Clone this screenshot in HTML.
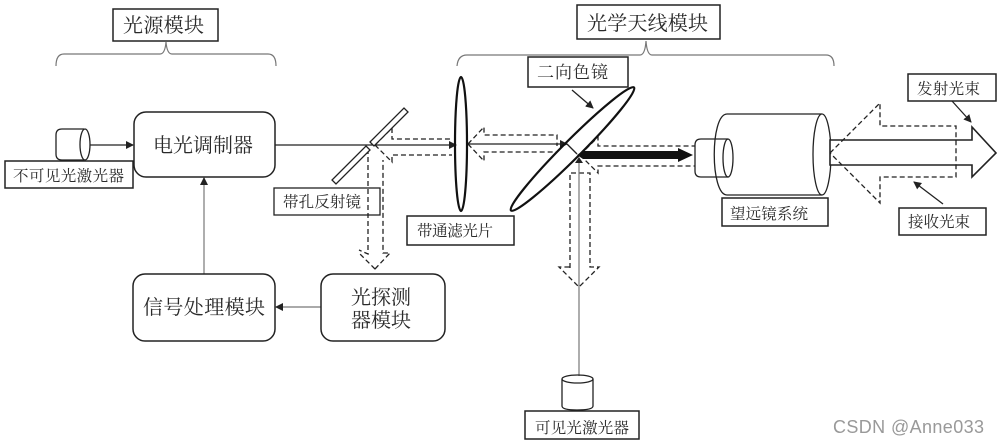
<!DOCTYPE html>
<html><head><meta charset="utf-8"><style>
html,body{margin:0;padding:0;background:#fff}
svg{display:block}
text{font-family:"Noto Serif CJK SC","Liberation Serif",serif;fill:#2a2a2a}
.b{fill:#fff;stroke:#222;stroke-width:1.5}
.l{fill:none;stroke:#222;stroke-width:1.3}
.d{fill:none;stroke:#222;stroke-width:1.3;stroke-dasharray:5 3}
.g{fill:none;stroke:#777;stroke-width:1.2}
</style></head><body>
<svg width="1000" height="443" viewBox="0 0 1000 443" xmlns="http://www.w3.org/2000/svg">
<defs><marker id="a" markerWidth="8" markerHeight="8" refX="7" refY="4" orient="auto" markerUnits="userSpaceOnUse"><path d="M0 0L8 4L0 8Z" fill="#222"/></marker></defs>
<rect width="1000" height="443" fill="#fff"/>

<!-- braces -->
<path class="g" d="M56 66Q56 54 64 54H160Q165 54 166 42Q167 54 172 54H268Q276 54 276 66"/>
<path class="g" d="M457 66Q458 55 467 55H640Q645 55 646 41Q647 55 652 55H826Q834 55 834 66"/>

<!-- dashed beams (left) -->
<path class="d" d="M368 149V254L359 250M375 269L360 254M375 269L390 253L383 253V160"/>
<path class="d" d="M375 145L392 128V139H452M375 145L392 162V155H452"/>
<path class="d" d="M468 144L484 127V135H557V146M468 144L484 161V152H557"/>
<path class="d" d="M580 155L598 137V146H695M580 155L598 173V166H695"/>
<path class="d" d="M570 268V173H590V267H599L579 287L559 267H570"/>

<!-- solid beams -->
<path class="l" d="M275 145H456" marker-end="url(#a)"/>
<path class="l" d="M468 144H567" marker-end="url(#a)"/>
<path class="l" d="M90 145H133" marker-end="url(#a)"/>
<path class="l" d="M567 144L577 154"/>
<path class="g" d="M579 160V376"/>
<path d="M579 157L583 163H575Z" fill="#222"/>

<!-- mirror -->
<path fill="#fff" stroke="#222" stroke-width="1.3" d="M370 142L404 108L408 112L374 146Z"/>
<path fill="#fff" stroke="#222" stroke-width="1.3" d="M366 146L370 150L336 184L332 180Z"/>

<!-- lens -->
<ellipse cx="461" cy="144" rx="6" ry="67" fill="none" stroke="#111" stroke-width="2.2"/>
<!-- dichroic -->
<ellipse cx="572.5" cy="149" rx="87" ry="9" transform="rotate(-45 572.5 149)" fill="none" stroke="#111" stroke-width="2.2"/>

<!-- thick arrow -->
<path d="M577 155L583 151H678V148L693 155L678 162V159H583Z" fill="#111"/>

<!-- small laser left -->
<path class="l" d="M84 129H62Q56 129 56 135V154Q56 160 62 160H84"/>
<ellipse class="l" cx="85" cy="144.500" rx="5" ry="15.500"/>

<!-- telescope -->
<path class="l" d="M822 114H727C710 114 710 195 727 195H822"/>
<ellipse class="l" cx="822" cy="154.500" rx="9" ry="40.500" style="fill:#fff"/>
<path class="l" d="M728 139H701Q695 139 695 145V171Q695 177 701 177H728"/>
<ellipse class="l" cx="728" cy="158" rx="5" ry="19"/>

<!-- big output arrows -->
<path d="M830 140H972V127L996 153L972 177V165H830Z" fill="#fff" stroke="#222" stroke-width="1.6"/>
<path class="d" d="M830 153L880 103V126H956V177H880V203L830 153"/>

<!-- bottom laser -->
<path class="l" d="M562 379V406Q562 410 577 410Q593 410 593 406V379" style="fill:#fff"/>
<ellipse class="l" cx="577.500" cy="379" rx="15.500" ry="4"/>

<!-- pointer arrows -->
<path class="l" d="M572 90L593 108" marker-end="url(#a)"/>
<path class="l" d="M952 101L971 122" marker-end="url(#a)"/>
<path class="l" d="M943 204L914 182" marker-end="url(#a)"/>
<path class="g" d="M204 274V178" marker-end="url(#a)"/>
<path class="g" d="M321 307H276" marker-end="url(#a)"/>

<!-- label boxes -->
<rect class="b" x="113" y="9" width="105" height="32"/>
<rect class="b" x="577" y="5" width="143" height="34"/>
<rect class="b" x="528" y="57" width="100" height="30"/>
<rect class="b" x="5" y="161" width="128" height="27"/>
<rect class="l" x="274" y="188" width="106" height="27"/>
<rect class="b" x="407" y="216" width="107" height="29"/>
<rect class="b" x="722" y="198" width="106" height="28"/>
<rect class="b" x="908" y="74" width="88" height="27"/>
<rect class="b" x="899" y="208" width="87" height="27"/>
<rect class="b" x="525" y="411" width="114" height="28"/>

<!-- modules -->
<rect class="b" x="134" y="112" width="141" height="65" rx="12"/>
<rect class="b" x="133" y="274" width="142" height="67" rx="12"/>
<rect class="b" x="321" y="274" width="124" height="67" rx="12"/>

<!-- text -->
<g font-size="20">
<text x="123" y="32" textLength="81">光源模块</text>
<text x="587" y="30" textLength="121">光学天线模块</text>
<text x="153" y="152" textLength="100">电光调制器</text>
<text x="143" y="314" textLength="122">信号处理模块</text>
<text x="351" y="304" textLength="60">光探测</text>
<text x="351" y="327" textLength="60">器模块</text>
</g>
<g font-size="15.500">
<text x="13" y="181" textLength="111">不可见光激光器</text>
<text x="283" y="207" textLength="78">帯孔反射镜</text>
<text x="417" y="236" textLength="76">带通滤光片</text>
<text x="537" y="78" font-size="17" textLength="71">二向色镜</text>
<text x="730" y="219" textLength="78">望远镜系统</text>
<text x="917" y="94" textLength="63">发射光束</text>
<text x="908" y="227" textLength="62">接收光束</text>
<text x="535" y="433" textLength="94">可见光激光器</text>
</g>
<text x="833" y="433" font-size="18" textLength="151" style="font-family:'Liberation Sans',sans-serif;fill:#999">CSDN @Anne033</text>
</svg>
</body></html>
